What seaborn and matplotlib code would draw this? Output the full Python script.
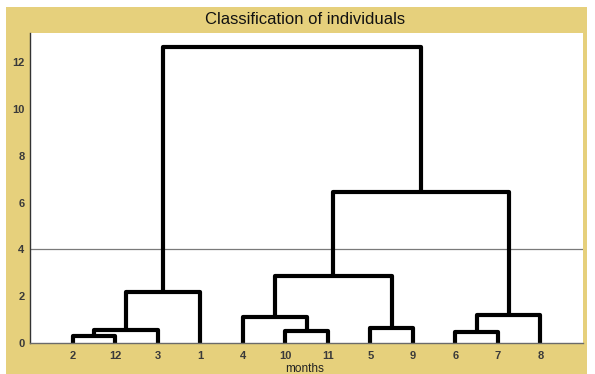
import matplotlib
matplotlib.use("Agg")
import matplotlib.pyplot as plt
import matplotlib.patches as mpatches
import seaborn as sns
import pandas as pd

# ---- data ----
leaf_order = ["2", "12", "3", "1", "4", "10", "11", "5", "9", "6", "7", "8"]
merge_names = ["A", "B", "C", "D", "E", "F", "G", "H", "I", "J", "K"]
merge_left = ["2", "A", "B", "10", "4", "5", "E", "6", "H", "G", "C"]
merge_right = ["12", "3", "1", "11", "D", "9", "F", "7", "8", "I", "J"]
merge_height = [0.30, 0.55, 2.20, 0.50, 1.10, 0.65, 2.87, 0.48, 1.20, 6.45, 12.65]
cut_level = 4

# ---- build dendrogram segments ----
pos = {lab: i + 1 for i, lab in enumerate(leaf_order)}
hgt = {lab: 0.0 for lab in leaf_order}
rows = []
for k, (n, l, r, h) in enumerate(zip(merge_names, merge_left, merge_right, merge_height)):
    xl, xr = pos[l], pos[r]
    for x, y in [(xl, hgt[l]), (xl, h), (xr, h), (xr, hgt[r])]:
        rows.append({"seg": k, "x": x, "y": y})
    pos[n] = (xl + xr) / 2
    hgt[n] = h
df = pd.DataFrame(rows)

sns.set_style("white")
plt.rcParams["font.family"] = ["Liberation Sans", "DejaVu Sans"]

fig = plt.figure(figsize=(5.95, 3.74), dpi=100, facecolor="white")
bg = mpatches.Rectangle((6 / 595, 0), 581 / 595, 367 / 374, transform=fig.transFigure,
                        facecolor="#E6D07C", edgecolor="none", zorder=-10)
fig.patches.append(bg)

ax = fig.add_axes([30 / 595, 31 / 374, 553 / 595, 310 / 374])
ax.set_zorder(1)
ax.set_facecolor("white")

ax.axhline(cut_level, color="#7a7a7a", lw=0.9, zorder=1)
sns.lineplot(data=df, x="x", y="y", units="seg", estimator=None, sort=False,
             color="black", lw=3.0, ax=ax, legend=False, zorder=2)

ax.set_xlim(0, 13)
ax.set_ylim(0, 13.25)
ax.set_xticks(range(1, len(leaf_order) + 1))
ax.set_xticklabels(leaf_order)
ax.set_yticks(range(0, 13, 2))
ax.set_xlabel("")
ax.set_ylabel("")
ax.tick_params(axis="both", direction="in", length=4, width=0.8, colors="#333333",
               labelsize=8, pad=4)
for lab in ax.get_xticklabels() + ax.get_yticklabels():
    lab.set_fontweight("bold")
    lab.set_color("#3a3a3a")
ax.tick_params(axis="x", length=0, pad=6)

for s in ["top", "right"]:
    ax.spines[s].set_visible(False)
ax.spines["left"].set_color("#333333")
ax.spines["left"].set_linewidth(1.0)
ax.spines["bottom"].set_color("#6a6a6a")
ax.spines["bottom"].set_linewidth(1.0)

fig.text(305 / 595, 1 - 19 / 374, "Classification of individuals", ha="center", va="center",
         fontsize=12, color="#111111")
fig.text(305 / 595, 1 - 369 / 374, "months", ha="center", va="center",
         fontsize=8.5, color="#222222")

fig.savefig("out.png", dpi=100, facecolor=fig.get_facecolor())
